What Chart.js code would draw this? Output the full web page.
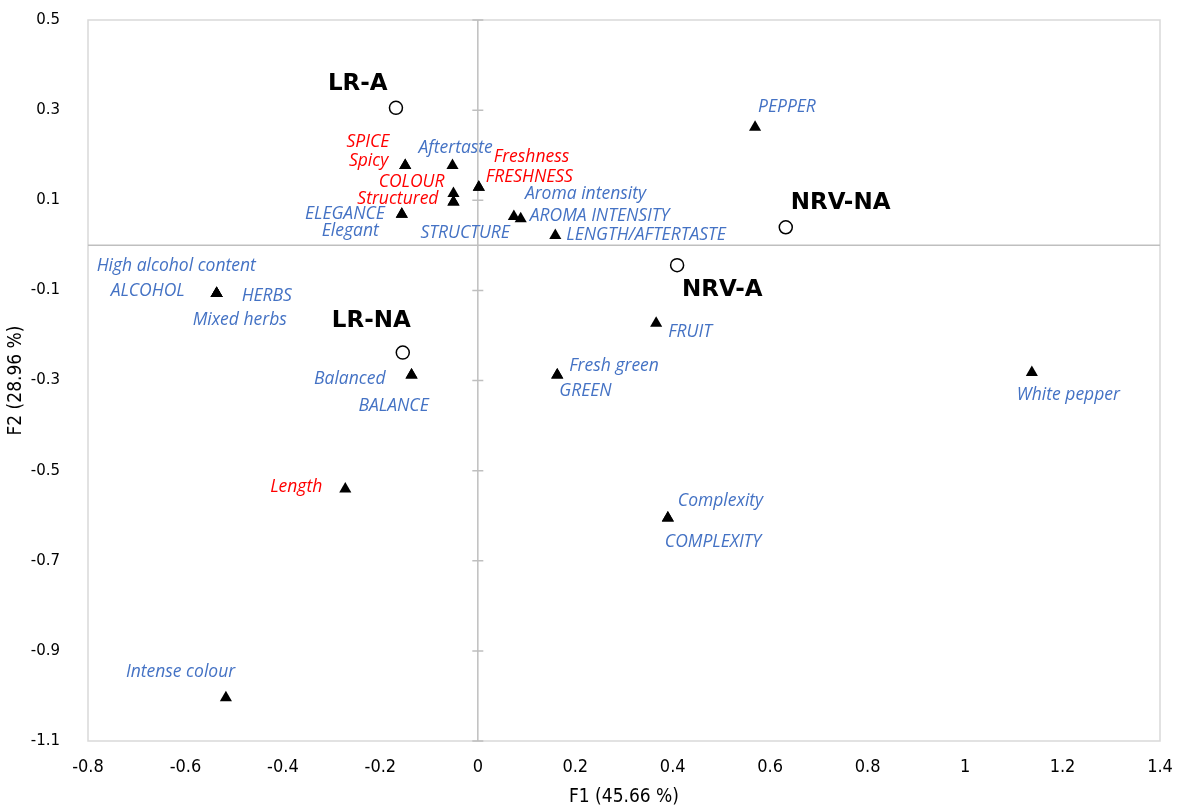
<!DOCTYPE html>
<html>
<head>
<meta charset="utf-8">
<script src="https://cdn.jsdelivr.net/npm/chart.js@4.4.0/dist/chart.umd.min.js"></script>
<style>
  html, body { margin: 0; padding: 0; background: #fff; }
  #wrap { width: 1178px; height: 808px; }
</style>
</head>
<body>
<div id="wrap"><canvas id="biplot" width="1178" height="808"></canvas></div>
<script>
// observations (open circles)
const obsNames = ['LR-A', 'LR-NA', 'NRV-A', 'NRV-NA'];
const obsF1 = [-0.168, -0.154, 0.409, 0.632];
const obsF2 = [0.305, -0.238, -0.044, 0.040];

// variables (triangles)
const varNames = [
    'SPICE', 'Spicy', 'Aftertaste', 'Freshness', 'FRESHNESS', 'COLOUR', 'Structured', 'STRUCTURE',
    'ELEGANCE', 'Elegant', 'Aroma intensity', 'AROMA INTENSITY', 'LENGTH/AFTERTASTE', 'PEPPER',
    'High alcohol content', 'ALCOHOL', 'HERBS', 'Mixed herbs', 'FRUIT', 'Balanced', 'BALANCE',
    'Fresh green', 'GREEN', 'White pepper', 'Length', 'Complexity', 'COMPLEXITY', 'Intense colour'
];
const varF1 = [
    -0.149, -0.149, -0.052, 0.002, 0.002, -0.050, -0.050, -0.050,
    -0.156, -0.156, 0.074, 0.088, 0.159, 0.569,
    -0.536, -0.536, -0.536, -0.536, 0.366, -0.136, -0.136,
    0.163, 0.163, 1.137, -0.272, 0.390, 0.390, -0.517
];
const varF2 = [
    0.177, 0.177, 0.177, 0.129, 0.129, 0.115, 0.096, 0.096,
    0.069, 0.069, 0.064, 0.059, 0.022, 0.262,
    -0.107, -0.107, -0.107, -0.107, -0.173, -0.288, -0.288,
    -0.288, -0.288, -0.282, -0.541, -0.605, -0.605, -1.004
];
// labels printed in red (the rest are blue)
const redVars = ['SPICE', 'Spicy', 'COLOUR', 'Structured', 'Freshness', 'FRESHNESS', 'Length'];

// axis ticks
const xTickLabels = ['-0.8', '-0.6', '-0.4', '-0.2', '0', '0.2', '0.4', '0.6', '0.8', '1', '1.2', '1.4'];
const yTickLabels = ['-1.1', '-0.9', '-0.7', '-0.5', '-0.3', '-0.1', '0.1', '0.3', '0.5'];

// label placement next to its marker: [dx, dy, align] in px
const labelPos = {
    'LR-A': [-68, -24, 'left'], 'LR-NA': [-71, -32, 'left'],
    'NRV-A': [5, 25, 'left'], 'NRV-NA': [5, -24, 'left'],
    'SPICE': [-16, -24, 'right'], 'Spicy': [-17, -5, 'right'],
    'Aftertaste': [-34, -18, 'left'], 'Freshness': [15, -30, 'left'],
    'FRESHNESS': [7, -10, 'left'], 'COLOUR': [-9, -11, 'right'],
    'Structured': [-15, -3, 'right'], 'STRUCTURE': [-33, 31, 'left'],
    'ELEGANCE': [-17, 0, 'right'], 'Elegant': [-23, 17, 'right'],
    'Aroma intensity': [11, -22, 'left'], 'AROMA INTENSITY': [9, -3, 'left'],
    'LENGTH/AFTERTASTE': [11, 0, 'left'], 'PEPPER': [3, -20, 'left'],
    'High alcohol content': [-120, -28, 'left'], 'ALCOHOL': [-32, -3, 'right'],
    'HERBS': [25, 2, 'left'], 'Mixed herbs': [-24, 26, 'left'],
    'FRUIT': [12, 9, 'left'], 'Balanced': [-26, 4, 'right'],
    'BALANCE': [-53, 31, 'left'], 'Fresh green': [12, -9, 'left'],
    'GREEN': [2, 16, 'left'], 'White pepper': [-15, 23, 'left'],
    'Length': [-23, -2, 'right'], 'Complexity': [10, -17, 'left'],
    'COMPLEXITY': [-3, 24, 'left'], 'Intense colour': [-100, -26, 'left']
};

const narrowFont = "'Liberation Sans Narrow', 'DejaVu Sans', sans-serif";

// 枠線・ゼロ軸・目盛りを描くプラグイン
const axesPlugin = {
    id: 'axesPlugin',
    beforeDatasetsDraw(chart) {
        const { ctx, chartArea: a, scales: { x, y } } = chart;
        ctx.save();
        ctx.strokeStyle = '#d9d9d9';
        ctx.lineWidth = 1.5;
        ctx.strokeRect(a.left, a.top, a.right - a.left, a.bottom - a.top);

        const x0 = x.getPixelForValue(0);
        const y0 = y.getPixelForValue(0);
        ctx.strokeStyle = '#bfbfbf';
        ctx.lineWidth = 1.5;
        ctx.beginPath();
        ctx.moveTo(x0, a.top); ctx.lineTo(x0, a.bottom);
        ctx.moveTo(a.left, y0); ctx.lineTo(a.right, y0);
        ctx.stroke();
        // 縦軸の目盛り
        ctx.beginPath();
        yTickLabels.forEach(t => {
            const py = y.getPixelForValue(parseFloat(t));
            ctx.moveTo(x0 - 5.5, py); ctx.lineTo(x0 + 5.5, py);
        });
        ctx.stroke();
        ctx.restore();
    }
};

// 点のラベルを描くプラグイン
const labelPlugin = {
    id: 'labelPlugin',
    afterDatasetsDraw(chart) {
        const { ctx } = chart;
        ctx.save();
        ctx.textBaseline = 'middle';
        chart.data.datasets.forEach((ds, di) => {
            const meta = chart.getDatasetMeta(di);
            meta.data.forEach((pt, i) => {
                const name = ds.names[i];
                const [dx, dy, align] = labelPos[name] || [8, 0, 'left'];
                if (ds.isObs) {
                    ctx.font = "bold 23px 'DejaVu Sans', sans-serif";
                    ctx.fillStyle = '#000';
                } else {
                    ctx.font = "italic 17.5px 'Open Sans', sans-serif";
                    ctx.fillStyle = redVars.includes(name) ? '#ff0000' : '#4472c4';
                }
                ctx.textAlign = align;
                ctx.fillText(name, pt.x + dx, pt.y + dy);
            });
        });
        ctx.restore();
    }
};

const ctx = document.getElementById('biplot').getContext('2d');
new Chart(ctx, {
    type: 'scatter',
    data: {
        datasets: [
            {
                label: 'Variables',
                names: varNames,
                data: varNames.map((n, i) => ({ x: varF1[i], y: varF2[i] })),
                pointStyle: 'triangle',
                pointRadius: 7,
                pointBackgroundColor: '#000',
                pointBorderColor: '#000',
                pointBorderWidth: 0
            },
            {
                label: 'Observations',
                names: obsNames,
                isObs: true,
                data: obsNames.map((n, i) => ({ x: obsF1[i], y: obsF2[i] })),
                pointStyle: 'circle',
                pointRadius: 6.5,
                pointBackgroundColor: '#fff',
                pointBorderColor: '#000',
                pointBorderWidth: 1.5
            }
        ]
    },
    options: {
        responsive: false,
        animation: false,
        devicePixelRatio: 1,
        layout: { padding: { top: 20, right: 18, left: 0, bottom: 0 } },
        plugins: {
            legend: { display: false },
            tooltip: { enabled: false }
        },
        scales: {
            x: {
                type: 'linear',
                min: parseFloat(xTickLabels[0]),
                max: parseFloat(xTickLabels[xTickLabels.length - 1]),
                grid: { display: false, drawTicks: false },
                border: { display: false },
                ticks: {
                    stepSize: 0.2,
                    padding: 16,
                    color: '#000',
                    font: { family: narrowFont, size: 18, weight: 'condensed' },
                    callback: (v, i) => xTickLabels[i]
                },
                title: {
                    display: true,
                    text: 'F1 (45.66 %)',
                    color: '#000',
                    font: { family: narrowFont, size: 19, weight: 'condensed', lineHeight: 1.2 },
                    padding: { top: 0, bottom: 0 }
                },
                afterFit(scale) {
                    scale.height = 67;
                    scale.paddingLeft = 0;
                    scale.paddingRight = 0;
                }
            },
            y: {
                type: 'linear',
                min: parseFloat(yTickLabels[0]),
                max: parseFloat(yTickLabels[yTickLabels.length - 1]),
                grid: { display: false, drawTicks: false },
                border: { display: false },
                ticks: {
                    stepSize: 0.2,
                    padding: 28,
                    color: '#000',
                    font: { family: "'DejaVu Sans', sans-serif", size: 15 },
                    callback: (v, i) => yTickLabels[i]
                },
                title: {
                    display: true,
                    text: 'F2 (28.96 %)',
                    color: '#000',
                    font: { family: narrowFont, size: 19, weight: 'condensed', lineHeight: 1.2 },
                    padding: { top: 5, bottom: 0 }
                },
                afterFit(scale) {
                    scale.width = 88;
                    scale.paddingTop = 0;
                    scale.paddingBottom = 0;
                }
            }
        }
    },
    plugins: [axesPlugin, labelPlugin]
});
</script>
</body>
</html>
